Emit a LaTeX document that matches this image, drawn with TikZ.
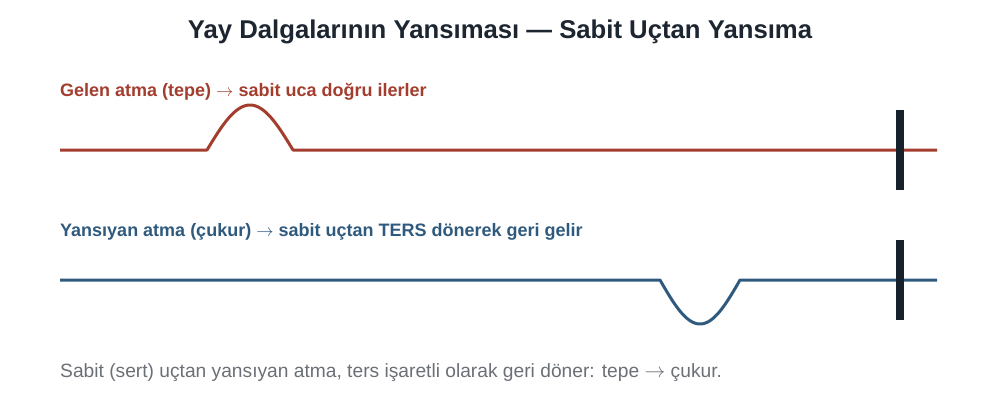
\documentclass[tikz,border=0pt]{standalone}
\usepackage{fontspec}
\setmainfont{Liberation Sans}
\definecolor{gelen}{HTML}{A33D2E}
\definecolor{yansiyan}{HTML}{2F5A7E}
\definecolor{duvar}{HTML}{17212B}
\definecolor{baslik}{HTML}{1C2530}
\definecolor{notrenk}{HTML}{6B6F76}
\newcommand{\ok}{\(\rightarrow\)}
\begin{document}
\begin{tikzpicture}[x=1pt,y=-1pt,
    ip/.style={line width=3pt,line join=round},
    etiket/.style={anchor=west,inner sep=0pt,font=\bfseries\fontsize{18}{21}\selectfont}]
    \useasboundingbox (0,0) rectangle (1000,400);
    \node[font=\bfseries\fontsize{25.7}{30}\selectfont,text=baslik] (baslik) at (500,32) {Yay Dalgalarının Yansıması — Sabit Uçtan Yansıma};
    \node[etiket,text=gelen] (gelenyazi) at (60,92) {Gelen atma (tepe) \ok{} sabit uca doğru ilerler};
    \node[etiket,text=yansiyan] (yansiyanyazi) at (60,232) {Yansıyan atma (çukur) \ok{} sabit uçtan TERS dönerek geri gelir};
    % ipler
    \draw[ip,gelen] (60,150) -- (207,150) -- plot[domain=207:293,samples=40] (\x,{150-45*sin(180*(\x-207)/86)}) -- (937,150);
    \draw[ip,yansiyan] (60,280) -- (660,280) -- plot[domain=660:740,samples=40] (\x,{280+44*sin(180*(\x-660)/80)}) -- (937,280);
    % sabit uclar
    \foreach \y in {150,280}
        \draw[duvar,line width=8pt] (900,\y-40) -- (900,\y+40);
    \node[anchor=west,inner sep=0pt,font=\fontsize{19.2}{22}\selectfont,text=notrenk] (notyazi) at (60,373) {Sabit (sert) uçtan yansıyan atma, ters işaretli olarak geri döner: tepe \ok{} çukur.};
\end{tikzpicture}
\end{document}
